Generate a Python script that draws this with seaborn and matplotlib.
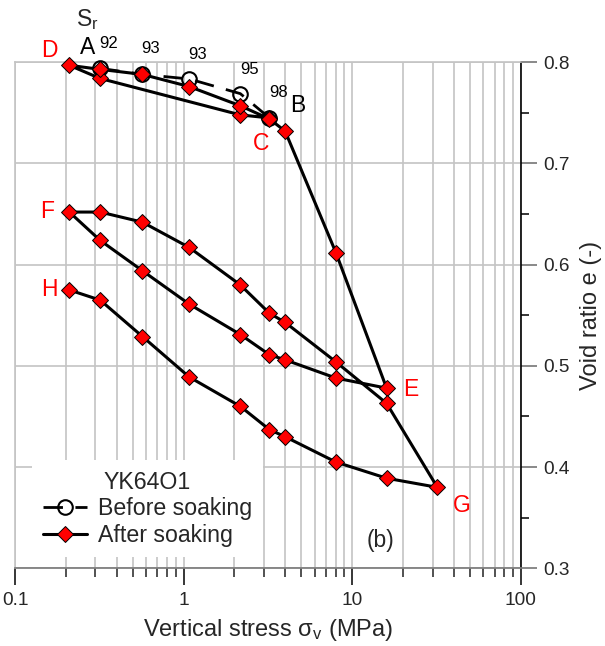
import numpy as np
import pandas as pd
import matplotlib
matplotlib.use("Agg")
import matplotlib.pyplot as plt
from matplotlib.ticker import LogLocator, MultipleLocator, FixedLocator, FixedFormatter, NullFormatter
import seaborn as sns

# Oedometer test on specimen YK64O1: vertical stress (MPa) vs void ratio
before_stress = [0.32, 0.57, 1.08, 2.17, 3.23]
before_void = [0.794, 0.788, 0.7835, 0.769, 0.745]
saturation = ["92", "93", "93", "95", "98"]

after_stress = [3.23, 2.17, 0.32, 0.21, 0.32, 0.57, 1.08, 2.17, 3.23, 4.0, 8.0, 16.0,
                8.0, 4.0, 3.23, 2.17, 1.08, 0.57, 0.32, 0.21,
                0.32, 0.57, 1.08, 2.17, 3.23, 4.0, 8.0, 16.0, 32.0,
                16.0, 8.0, 4.0, 3.23, 2.17, 1.08, 0.57, 0.32, 0.21]
after_void = [0.745, 0.748, 0.784, 0.797, 0.793, 0.788, 0.776, 0.757, 0.744, 0.732, 0.612, 0.478,
              0.488, 0.506, 0.511, 0.531, 0.561, 0.594, 0.624, 0.652,
              0.652, 0.642, 0.617, 0.580, 0.552, 0.543, 0.504, 0.463, 0.380,
              0.389, 0.405, 0.430, 0.437, 0.460, 0.489, 0.529, 0.565, 0.575]

point_labels = ["D", "A", "B", "C", "E", "F", "G", "H"]
label_colors = ["red", "black", "black", "red", "red", "red", "red", "red"]
label_pos = [(0.159, 0.812), (0.270, 0.8146), (4.77, 0.7568), (2.895, 0.7202),
             (22.2, 0.4762), (0.155, 0.653), (44.7, 0.3616), (0.159, 0.575)]
sr_pos = [(0.357, 0.819), (0.638, 0.8136), (1.206, 0.8077), (2.457, 0.7929), (3.65, 0.770)]

x_ticks = [0.1, 1, 10, 100]
x_ticklabels = ["0.1", "1", "10", "100"]
y_ticks = [0.3, 0.4, 0.5, 0.6, 0.7, 0.8]
y_ticklabels = ["0.3", "0.4", "0.5", "0.6", "0.7", "0.8"]

sns.set_theme(style="white")
plt.rcParams["font.family"] = ["Liberation Sans", "DejaVu Sans"]
plt.rcParams["mathtext.fontset"] = "custom"
plt.rcParams["mathtext.rm"] = "Liberation Sans"
plt.rcParams["mathtext.it"] = "Liberation Sans:italic"

fig = plt.figure(figsize=(6.05, 6.46), dpi=100)
ax = fig.add_axes([0.0248, 0.1203, 0.836, 0.7833])

grid_c = "#c4c4c4"
ax.set_xscale("log")
ax.set_xlim(0.1, 100)
ax.set_ylim(0.3, 0.8)

df_before = pd.DataFrame({"stress": before_stress, "void": before_void})
df_after = pd.DataFrame({"stress": after_stress, "void": after_void})

sns.lineplot(data=df_before, x="stress", y="void", sort=False, estimator=None,
             ax=ax, color="black", lw=2.0, dashes=False, linestyle=(0, (7, 4.5)),
             marker="o", markersize=10.5, markerfacecolor="none",
             markeredgecolor="black", markeredgewidth=1.5,
             label="Before soaking", clip_on=False, zorder=3)
sns.lineplot(data=df_after, x="stress", y="void", sort=False, estimator=None,
             ax=ax, color="black", lw=2.2, marker="D", markersize=8.3,
             markerfacecolor="#ff0000", markeredgecolor="black", markeredgewidth=0.7,
             label="After soaking", clip_on=False, zorder=4)

# grid: all decade subdivisions on x, 0.1 steps on y
ax.xaxis.set_major_locator(FixedLocator(x_ticks))
ax.xaxis.set_major_formatter(FixedFormatter(x_ticklabels))
ax.xaxis.set_minor_locator(LogLocator(base=10, subs=np.arange(2, 10), numticks=20))
ax.xaxis.set_minor_formatter(NullFormatter())
ax.yaxis.set_major_locator(FixedLocator(y_ticks))
ax.yaxis.set_major_formatter(FixedFormatter(y_ticklabels))
ax.yaxis.set_minor_locator(MultipleLocator(0.05))
ax.grid(which="major", axis="both", color=grid_c, lw=1.2)
ax.grid(which="minor", axis="x", color=grid_c, lw=1.2)
ax.set_axisbelow(True)

ax.yaxis.tick_right()
ax.yaxis.set_label_position("right")
ax.tick_params(axis="x", which="major", direction="out", length=12, width=1.1,
               color="black", labelsize=13.7, pad=5, bottom=True)
ax.tick_params(axis="x", which="minor", direction="out", length=6.5, width=1.1,
               color="#222222", bottom=True)
ax.tick_params(axis="y", which="major", direction="out", length=11.5, width=1.3,
               color="#808080", labelsize=13.7, pad=5, right=True, left=False)
ax.tick_params(axis="y", which="minor", direction="out", length=6, width=1.1,
               color="black", right=True, left=False)

for side in ["left", "top"]:
    ax.spines[side].set_color(grid_c)
    ax.spines[side].set_linewidth(1.2)
ax.spines["bottom"].set_color("#808080")
ax.spines["bottom"].set_linewidth(1.3)
ax.spines["right"].set_color("black")
ax.spines["right"].set_linewidth(1.2)

ax.set_xlabel(r"Vertical stress $\mathregular{\sigma_v}$ (MPa)", fontsize=17, labelpad=6)
ax.set_ylabel("Void ratio e (-)", fontsize=17, labelpad=7)

for lab, col, (px, py) in zip(point_labels, label_colors, label_pos):
    ax.text(px, py, lab, color=col, fontsize=16.5, ha="center", va="center", clip_on=False)
for s, (px, py) in zip(saturation, sr_pos):
    ax.text(px, py, s, color="black", fontsize=12, ha="center", va="center", clip_on=False)
ax.text(0.268, 0.842, r"$\mathregular{S_r}$", fontsize=16.5, ha="center", va="center")
ax.text(14.75, 0.327, "(b)", fontsize=16.5, ha="center", va="center")

leg = ax.legend(title="YK64O1", loc="lower left", bbox_to_anchor=(0.034, 0.022),
                borderaxespad=0, fontsize=16.7, title_fontsize=16.7, frameon=True,
                facecolor="white", edgecolor="white", framealpha=1,
                handlelength=1.9, handletextpad=0.5, borderpad=0.45, labelspacing=0.15)
leg.get_frame().set_linewidth(0)

fig.savefig("out.png", dpi=100)
